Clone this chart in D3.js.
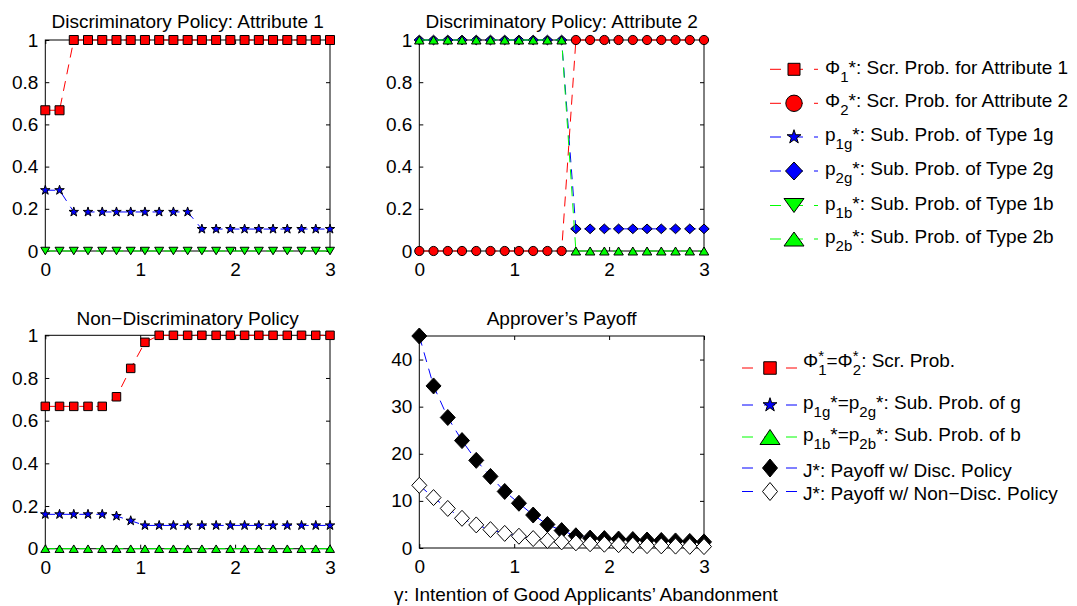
<!DOCTYPE html>
<html><head><meta charset="utf-8">
<script src="https://cdn.jsdelivr.net/npm/d3@7"></script>
<style>
html,body{margin:0;padding:0;background:#fff;}
svg{display:block;font-family:"Liberation Sans",Arial,Helvetica,sans-serif;}
</style></head><body>
<svg id="fig" width="1077" height="606"></svg>
<script>
// gamma: intention of good applicants' abandonment
const gamma = [0,0.15,0.3,0.45,0.6,0.75,0.9,1.05,1.2,1.35,1.5,1.65,1.8,1.95,2.1,2.25,2.4,2.55,2.7,2.85,3];

// Discriminatory policy, attribute 1
const phi1Disc = [0.667,0.667,1,1,1,1,1,1,1,1,1,1,1,1,1,1,1,1,1,1,1];
const p1gDisc  = [0.288,0.288,0.185,0.185,0.185,0.185,0.185,0.185,0.185,0.185,0.185,0.104,0.104,0.104,0.104,0.104,0.104,0.104,0.104,0.104,0.104];
const p1bDisc  = [0,0,0,0,0,0,0,0,0,0,0,0,0,0,0,0,0,0,0,0,0];

// Discriminatory policy, attribute 2
const phi2Disc = [0,0,0,0,0,0,0,0,0,0,0,1,1,1,1,1,1,1,1,1,1];
const p2gDisc  = [1,1,1,1,1,1,1,1,1,1,1,0.105,0.105,0.105,0.105,0.105,0.105,0.105,0.105,0.105,0.105];
const p2bDisc  = [1,1,1,1,1,1,1,1,1,1,1,0,0,0,0,0,0,0,0,0,0];

// Non-discriminatory policy
const phiNon = [0.667,0.667,0.667,0.667,0.667,0.712,0.845,0.967,1,1,1,1,1,1,1,1,1,1,1,1,1];
const pgNon  = [0.161,0.161,0.161,0.161,0.161,0.153,0.131,0.109,0.109,0.109,0.109,0.109,0.109,0.109,0.109,0.109,0.109,0.109,0.109,0.109,0.109];
const pbNon  = [0,0,0,0,0,0,0,0,0,0,0,0,0,0,0,0,0,0,0,0,0];

// Approver's payoff
const jDisc = [45,34.4,27.7,22.8,18.6,15.2,12.0,9.5,7.0,5.0,3.7,2.6,2.1,2.0,1.9,1.8,1.7,1.6,1.5,1.4,1.3];
const jNon  = [13.3,10.7,8.4,6.3,4.9,3.9,3.1,2.5,2.0,1.6,1.3,1.1,0.9,0.8,0.7,0.6,0.5,0.45,0.4,0.35,0.3];

// Tick values
const xTicks = [0,1,2,3];
const probTicks = [0,0.2,0.4,0.6,0.8,1];
const payTicks = [0,10,20,30,40];

const RED = "#ff0000", BLUE = "#0000ff", GREEN = "#00ff00";
const FONT = 19, SUBF = 15;
const svg = d3.select("#fig");

const ctx = document.createElement("canvas").getContext("2d");
function tw(s, size) { ctx.font = size + 'px "Liberation Sans", Arial, sans-serif'; return ctx.measureText(s).width; }

// Marker shapes centred at the origin
function markerPath(m) {
  const p = d3.path();
  if (m.type === "square") {
    const s = m.s / 2; p.rect(-s, -s, m.s, m.s);
  } else if (m.type === "circle") {
    p.moveTo(m.r, 0); p.arc(0, 0, m.r, 0, 2 * Math.PI);
  } else if (m.type === "diamond") {
    p.moveTo(0, -m.h); p.lineTo(m.w, 0); p.lineTo(0, m.h); p.lineTo(-m.w, 0); p.closePath();
  } else if (m.type === "triUp") {
    p.moveTo(0, -m.h / 2); p.lineTo(m.w / 2, m.h / 2); p.lineTo(-m.w / 2, m.h / 2); p.closePath();
  } else if (m.type === "triDown") {
    p.moveTo(0, m.h / 2); p.lineTo(m.w / 2, -m.h / 2); p.lineTo(-m.w / 2, -m.h / 2); p.closePath();
  } else if (m.type === "star") {
    const R = m.r, r = m.r * 0.382;
    for (let i = 0; i < 10; i++) {
      const a = -Math.PI / 2 + i * Math.PI / 5;
      const rr = i % 2 ? r : R;
      if (i === 0) p.moveTo(rr * Math.cos(a), rr * Math.sin(a));
      else p.lineTo(rr * Math.cos(a), rr * Math.sin(a));
    }
    p.closePath();
  }
  return p.toString();
}

function panel(opt) {
  const x = d3.scaleLinear().domain([0, 3]).range([opt.x0, opt.x1]);
  const y = d3.scaleLinear().domain(opt.yDomain).range([opt.y1, opt.y0]);
  const g = svg.append("g");
  const tickFmt = opt.yFmt;

  // axes box
  g.append("rect").attr("x", opt.x0).attr("y", opt.y0)
    .attr("width", opt.x1 - opt.x0).attr("height", opt.y1 - opt.y0)
    .attr("fill", "none").attr("stroke", "#000").attr("stroke-width", 1);

  const styleAxis = sel => {
    sel.select(".domain").remove();
    sel.selectAll(".tick line").attr("stroke", "#000");
    sel.selectAll(".tick text").attr("font-size", FONT).attr("fill", "#000")
      .attr("font-family", '"Liberation Sans", Arial, sans-serif');
  };
  g.append("g").attr("transform", `translate(0,${opt.y1})`)
    .call(d3.axisBottom(x).tickValues(xTicks).tickFormat(d3.format("d")).tickSizeInner(-4).tickSizeOuter(0).tickPadding(12))
    .call(styleAxis);
  g.append("g").attr("transform", `translate(0,${opt.y0})`)
    .call(d3.axisTop(x).tickValues(xTicks).tickFormat("").tickSizeInner(-4).tickSizeOuter(0))
    .call(styleAxis);
  g.append("g").attr("transform", `translate(${opt.x0},0)`)
    .call(d3.axisLeft(y).tickValues(opt.yTicks).tickFormat(tickFmt).tickSizeInner(-4).tickSizeOuter(0).tickPadding(7))
    .call(styleAxis);
  g.append("g").attr("transform", `translate(${opt.x1},0)`)
    .call(d3.axisRight(y).tickValues(opt.yTicks).tickFormat("").tickSizeInner(-4).tickSizeOuter(0))
    .call(styleAxis);

  // title
  g.append("text").attr("x", (opt.x0 + opt.x1) / 2).attr("y", opt.titleY)
    .attr("text-anchor", "middle").attr("font-size", FONT).text(opt.title);

  // series: dashed line, then markers
  opt.series.forEach(s => {
    const line = d3.line().x((d, i) => x(gamma[i])).y(d => y(d));
    g.append("path").attr("d", line(s.values)).attr("fill", "none")
      .attr("stroke", s.line).attr("stroke-width", 1).attr("stroke-dasharray", "10,7");
    const path = markerPath(s.marker);
    g.append("g").selectAll("path").data(s.values).join("path")
      .attr("d", path)
      .attr("transform", (d, i) => `translate(${x(gamma[i])},${y(d)})`)
      .attr("fill", s.fill).attr("stroke", "#000").attr("stroke-width", 1);
  });
}

const fmtProb = d => d === 0 ? "0" : d === 1 ? "1" : String(d);

panel({ x0: 45.3, x1: 330, y0: 40, y1: 251, yDomain: [0, 1], yTicks: probTicks, yFmt: fmtProb,
  title: "Discriminatory Policy: Attribute 1", titleY: 28,
  series: [
    { values: phi1Disc, line: RED, fill: RED, marker: { type: "square", s: 9 } },
    { values: p1gDisc, line: BLUE, fill: BLUE, marker: { type: "star", r: 5 } },
    { values: p1bDisc, line: GREEN, fill: GREEN, marker: { type: "triDown", w: 9, h: 7.5 } }
  ] });

panel({ x0: 419.3, x1: 704, y0: 40, y1: 251, yDomain: [0, 1], yTicks: probTicks, yFmt: fmtProb,
  title: "Discriminatory Policy: Attribute 2", titleY: 28,
  series: [
    { values: phi2Disc, line: RED, fill: RED, marker: { type: "circle", r: 4.6 } },
    { values: p2gDisc, line: BLUE, fill: BLUE, marker: { type: "diamond", w: 5.2, h: 4.8 } },
    { values: p2bDisc, line: GREEN, fill: GREEN, marker: { type: "triUp", w: 9.5, h: 8 } }
  ] });

panel({ x0: 45.3, x1: 330, y0: 335.3, y1: 548.7, yDomain: [0, 1], yTicks: probTicks, yFmt: fmtProb,
  title: "Non\u2212Discriminatory Policy", titleY: 325,
  series: [
    { values: phiNon, line: RED, fill: RED, marker: { type: "square", s: 8.5 } },
    { values: pgNon, line: BLUE, fill: BLUE, marker: { type: "star", r: 5 } },
    { values: pbNon, line: GREEN, fill: GREEN, marker: { type: "triUp", w: 9, h: 7.5 } }
  ] });

panel({ x0: 419.3, x1: 704, y0: 336, y1: 548, yDomain: [0, 45], yTicks: payTicks, yFmt: d3.format("d"),
  title: "Approver\u2019s Payoff", titleY: 325,
  series: [
    { values: jDisc, line: BLUE, fill: "#000", marker: { type: "diamond", w: 7.5, h: 8 } },
    { values: jNon, line: BLUE, fill: "#fff", marker: { type: "diamond", w: 7.5, h: 8 } }
  ] });

// x-axis label
svg.append("text").attr("x", 586).attr("y", 601).attr("text-anchor", "middle")
  .attr("font-size", FONT).text("\u03b3: Intention of Good Applicants\u2019 Abandonment");

// Text with TeX-like subscripts / superscripts
function richText(x, y, parts) {
  const t = svg.append("text").attr("x", x).attr("y", y).attr("font-size", FONT).attr("fill", "#000");
  let cur = 0;
  parts.forEach(p => {
    let target = 0, size = FONT;
    if (p.sub) { target = 8; size = SUBF; }
    if (p.sup) { target = -6; size = SUBF; }
    const ts = t.append("tspan").attr("font-size", size).attr("dy", target - cur).text(p.t);
    if (p.dx) ts.attr("dx", p.dx);
    cur = target;
  });
}

function legend(items, lx0, lx1, tx) {
  const mx = (lx0 + lx1) / 2;
  items.forEach(it => {
    svg.append("line").attr("x1", lx0).attr("x2", lx1).attr("y1", it.my).attr("y2", it.my)
      .attr("stroke", it.line).attr("stroke-width", 1).attr("stroke-dasharray", "11,11");
    svg.append("path").attr("d", markerPath(it.marker))
      .attr("transform", `translate(${mx},${it.my})`)
      .attr("fill", it.fill).attr("stroke", "#000").attr("stroke-width", 1);
    richText(tx, it.ty, it.parts);
  });
}

legend([
  { my: 69.3, ty: 73.5, line: RED, fill: RED, marker: { type: "square", s: 12 },
    parts: [{ t: "\u03a6" }, { t: "1", sub: true }, { t: "*: Scr. Prob. for Attribute 1" }] },
  { my: 103.3, ty: 107, line: RED, fill: RED, marker: { type: "circle", r: 8.2 },
    parts: [{ t: "\u03a6" }, { t: "2", sub: true }, { t: "*: Scr. Prob. for Attribute 2" }] },
  { my: 137, ty: 140.5, line: BLUE, fill: BLUE, marker: { type: "star", r: 7.3 },
    parts: [{ t: "p" }, { t: "1g", sub: true }, { t: "*: Sub. Prob. of Type 1g" }] },
  { my: 171, ty: 175, line: BLUE, fill: BLUE, marker: { type: "diamond", w: 8.5, h: 9 } ,
    parts: [{ t: "p" }, { t: "2g", sub: true }, { t: "*: Sub. Prob. of Type 2g" }] },
  { my: 205.5, ty: 210, line: GREEN, fill: GREEN, marker: { type: "triDown", w: 20, h: 14 },
    parts: [{ t: "p" }, { t: "1b", sub: true }, { t: "*: Sub. Prob. of Type 1b" }] },
  { my: 239, ty: 243, line: GREEN, fill: GREEN, marker: { type: "triUp", w: 20, h: 14 },
    parts: [{ t: "p" }, { t: "2b", sub: true }, { t: "*: Sub. Prob. of Type 2b" }] }
], 770, 818, 825);

const w1 = tw("1", SUBF), wStar = tw("*", SUBF);
legend([
  { my: 368, ty: 366.5, line: RED, fill: RED, marker: { type: "square", s: 12.5 },
    parts: [{ t: "\u03a6" }, { t: "1", sub: true }, { t: "*", sup: true, dx: -w1 },
            { t: "=\u03a6", dx: w1 - wStar }, { t: "2", sub: true }, { t: "*", sup: true, dx: -w1 },
            { t: ": Scr. Prob.", dx: w1 - wStar }] },
  { my: 405, ty: 409, line: BLUE, fill: BLUE, marker: { type: "star", r: 7.3 },
    parts: [{ t: "p" }, { t: "1g", sub: true }, { t: "*=p" }, { t: "2g", sub: true }, { t: "*: Sub. Prob. of g" }] },
  { my: 437, ty: 441, line: GREEN, fill: GREEN, marker: { type: "triUp", w: 20, h: 15 },
    parts: [{ t: "p" }, { t: "1b", sub: true }, { t: "*=p" }, { t: "2b", sub: true }, { t: "*: Sub. Prob. of b" }] },
  { my: 468, ty: 476.5, line: BLUE, fill: "#000", marker: { type: "diamond", w: 7.5, h: 9 },
    parts: [{ t: "J*: Payoff w/ Disc. Policy" }] },
  { my: 491.5, ty: 500, line: BLUE, fill: "#fff", marker: { type: "diamond", w: 7.5, h: 9 },
    parts: [{ t: "J*: Payoff w/ Non\u2212Disc. Policy" }] }
], 742, 798, 803);
</script>
</body></html>
